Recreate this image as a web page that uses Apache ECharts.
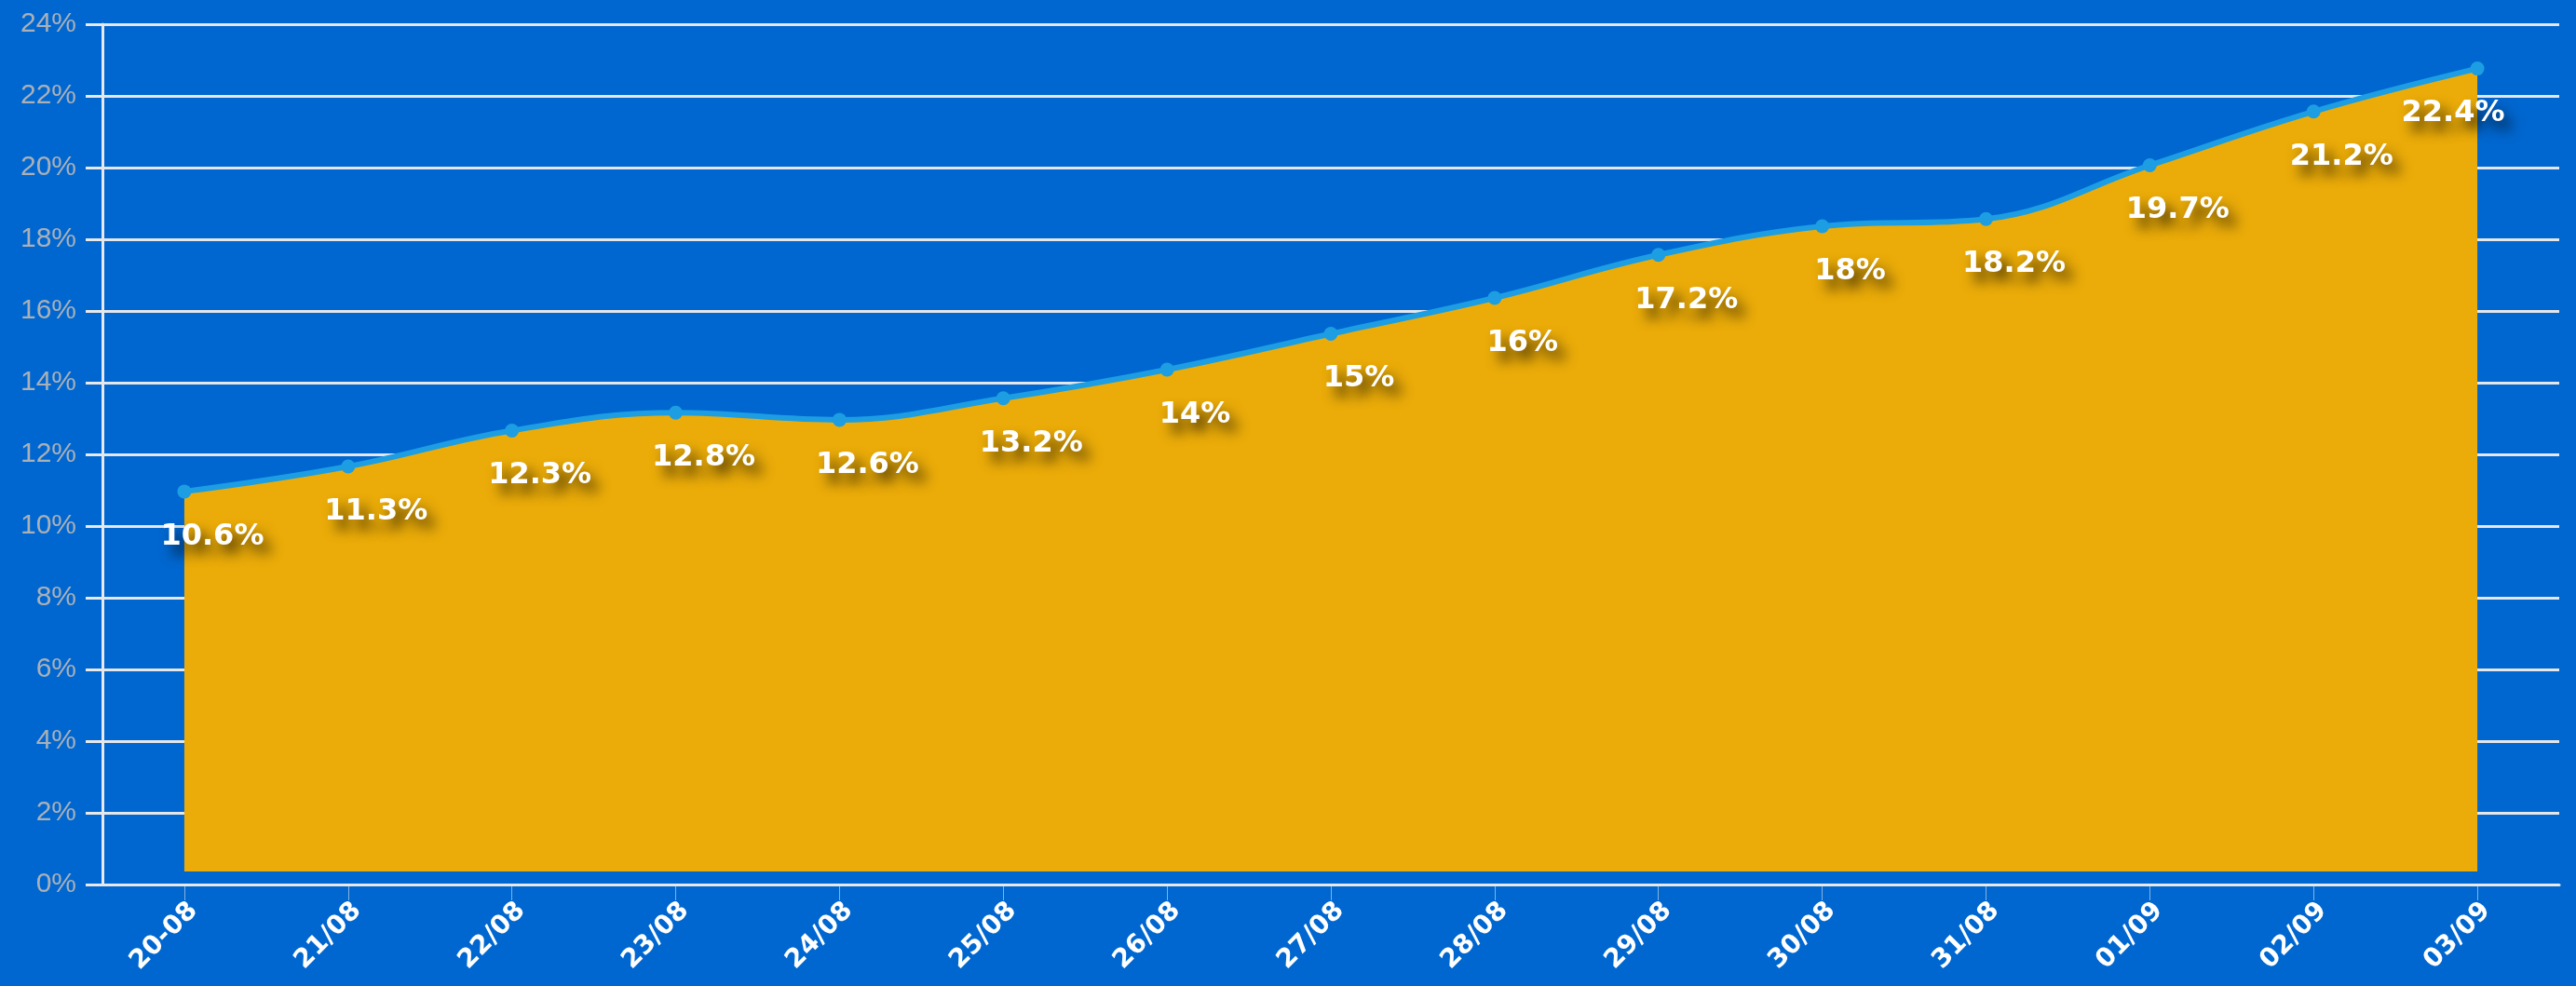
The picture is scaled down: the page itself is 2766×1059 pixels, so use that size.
<!DOCTYPE html>
<html>
<head>
<meta charset="utf-8">
<script src="https://cdn.jsdelivr.net/npm/echarts@6/dist/echarts.min.js"></script>
<style>html,body{margin:0;padding:0;background:#0067d0;}#c{width:2766px;height:1059px;}</style>
</head>
<body>
<div id="c"></div>
<script>
const categories = ['20-08','21/08','22/08','23/08','24/08','25/08','26/08','27/08','28/08','29/08','30/08','31/08','01/09','02/09','03/09'];
const values = [10.6, 11.3, 12.3, 12.8, 12.6, 13.2, 14, 15, 16, 17.2, 18, 18.2, 19.7, 21.2, 22.4];
const yTicks = {min: 0, max: 24, interval: 2};

const seriesData = values.map((v, i) => i === values.length - 1
  ? {value: v, label: {offset: [-26, 20]}}
  : v);

const chart = echarts.init(document.getElementById('c'));
chart.setOption({
  backgroundColor: '#0067d0',
  animation: false,
  grid: [
    {left: 110, right: 18, top: 26, bottom: 109},
    {left: 110, right: 18, top: 12, bottom: 123}
  ],
  xAxis: [
    {
      gridIndex: 0, type: 'category', data: categories, boundaryGap: true,
      axisLine: {lineStyle: {color: '#e8e8e8', width: 3}},
      axisTick: {show: true, alignWithLabel: true, length: 17, lineStyle: {color: 'rgba(220,230,240,0.6)', width: 1}},
      axisLabel: {rotate: 45, color: '#ffffff', fontFamily: 'DejaVu Sans', fontWeight: 'bold', fontSize: 28, margin: 14, verticalAlign: 'top'}
    },
    {gridIndex: 1, type: 'category', data: categories, boundaryGap: true, show: false}
  ],
  yAxis: [
    {
      gridIndex: 0, type: 'value', min: yTicks.min, max: yTicks.max, interval: yTicks.interval,
      axisLine: {show: true, lineStyle: {color: '#e8e8e8', width: 3}},
      axisTick: {show: true, length: 18, lineStyle: {color: '#e8e8e8', width: 3}},
      splitLine: {lineStyle: {color: '#e4e6ea', width: 3}},
      axisLabel: {formatter: '{value}%', color: '#aab0b8', fontFamily: 'Liberation Sans', fontSize: 30, margin: 28}
    },
    {gridIndex: 1, type: 'value', min: yTicks.min, max: yTicks.max, interval: yTicks.interval, show: false, splitLine: {show: false}}
  ],
  series: [{
    type: 'line',
    xAxisIndex: 1, yAxisIndex: 1,
    data: seriesData,
    smooth: 0.4,
    symbol: 'circle',
    symbolSize: 15,
    lineStyle: {color: '#1d9ee3', width: 6},
    itemStyle: {color: '#1d9ee3'},
    areaStyle: {color: '#ebac09', opacity: 1},
    label: {
      show: true, position: 'bottom', offset: [30, 20],
      formatter: '{c}%',
      color: '#ffffff', fontFamily: 'DejaVu Sans', fontWeight: 'bold', fontSize: 32,
      textShadowColor: 'rgba(0,0,0,0.75)', textShadowBlur: 14, textShadowOffsetX: 8, textShadowOffsetY: 10
    }
  }]
});
</script>
</body>
</html>
